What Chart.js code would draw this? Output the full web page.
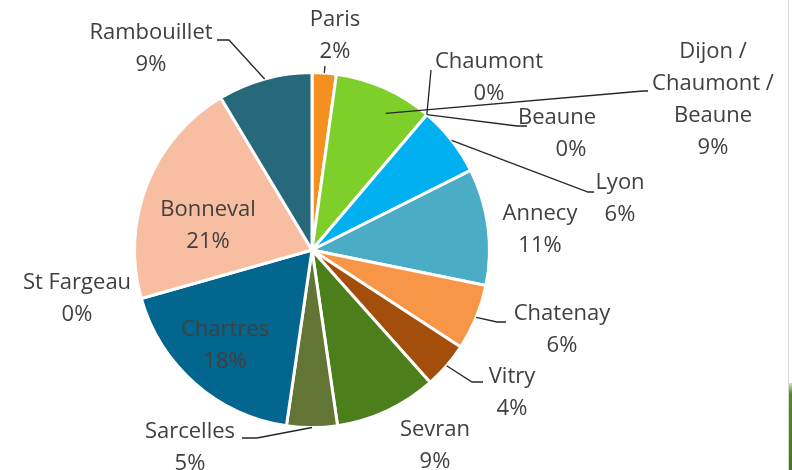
<!DOCTYPE html>
<html>
<head>
<meta charset="utf-8">
<script src="https://cdn.jsdelivr.net/npm/chart.js"></script>
<style>
  html, body { margin: 0; padding: 0; background: #fff; }
  #wrap { position: relative; width: 792px; height: 470px; overflow: hidden; }
  #edge { position: absolute; left: 788px; top: 0; width: 1px; height: 470px; background: #d9d9d9; }
  #edgeGreen { position: absolute; left: 789px; top: 383px; width: 3px; height: 87px; background: linear-gradient(#cfe6b8, #4e8f1c 12%, #3f7d14); }
</style>
</head>
<body>
<div id="wrap">
  <canvas id="pie" width="792" height="470"></canvas>
  <div id="edge"></div>
  <div id="edgeGreen"></div>
</div>
<script>
// Slices, clockwise from the top
const categories = ['Paris', 'Dijon / Chaumont / Beaune', 'Chaumont', 'Beaune', 'Lyon', 'Annecy',
    'Chatenay', 'Vitry', 'Sevran', 'Sarcelles', 'Chartres', 'St Fargeau', 'Bonneval', 'Rambouillet'];
const shares = [2.2, 9.0, 0, 0, 6.4, 10.6, 6.0, 4.2, 9.3, 4.6, 18.3, 0, 20.8, 8.6];
const sliceColors = ['#f39020', '#7ecf2a', '#7ecf2a', '#00b0f0', '#00b0f0', '#4bacc6',
    '#f79646', '#a34f0b', '#4d7e1c', '#637535', '#02668e', '#02668e', '#f7bea1', '#26697b'];
// Text lines of each label (the percentage line is added from the data)
const labelLines = [['Paris'], ['Dijon /', 'Chaumont /', 'Beaune'], ['Chaumont'], ['Beaune'], ['Lyon'],
    ['Annecy'], ['Chatenay'], ['Vitry'], ['Sevran'], ['Sarcelles'], ['Chartres'], ['St Fargeau'],
    ['Bonneval'], ['Rambouillet']];

// Label placement: centre of first line, leader elbows, anchor on the slice (fraction of sweep, radius factor)
const labelLayout = [
    { x: 335, y: 20, leader: [[325, 66]], f: 0.5, r: 1.0 },
    { x: 713, y: 52, leader: [[648, 91], [643, 91]], f: 0.63, r: 0.875 },
    { x: 489, y: 62, leader: [[431, 70]], f: 0, r: 1.0 },
    { x: 557, y: 118, px: 571, leader: [[527, 126], [517, 126]], f: 0, r: 1.0 },
    { x: 620, y: 183, leader: [[594, 192], [588, 192]], f: 0.5, r: 1.0 },
    { x: 540, y: 214 },
    { x: 562, y: 314, leader: [[506, 322], [497, 322]], f: 0.5, r: 1.0 },
    { x: 512, y: 377, leader: [[483, 382], [472, 382]], f: 0.5, r: 1.0 },
    { x: 435, y: 430 },
    { x: 190, y: 432, leader: [[242, 438], [257, 438]], f: 0.5, r: 1.0 },
    { x: 225, y: 330 },
    { x: 77, y: 283 },
    { x: 208, y: 210 },
    { x: 151, y: 33, leader: [[217, 40], [229, 40]], f: 0.5, r: 1.0 }
];

const total = shares.reduce((a, b) => a + b, 0);

const pieLabels = {
    id: 'pieLabels',
    afterDatasetsDraw(chart) {
        const ctx = chart.ctx;
        const arcs = chart.getDatasetMeta(0).data;
        ctx.save();
        // leader lines
        ctx.strokeStyle = '#262626';
        ctx.lineWidth = 1.3;
        labelLayout.forEach((lay, i) => {
            if (!lay.leader) return;
            const arc = arcs[i];
            const a = arc.startAngle + (arc.endAngle - arc.startAngle) * lay.f;
            const rr = arc.outerRadius * lay.r;
            const ex = arc.x + Math.cos(a) * rr;
            const ey = arc.y + Math.sin(a) * rr;
            ctx.beginPath();
            ctx.moveTo(lay.leader[0][0], lay.leader[0][1]);
            for (let k = 1; k < lay.leader.length; k++) ctx.lineTo(lay.leader[k][0], lay.leader[k][1]);
            ctx.lineTo(ex, ey);
            ctx.stroke();
        });
        // texts
        ctx.font = '22px "Open Sans"';
        ctx.fillStyle = '#404040';
        ctx.textAlign = 'center';
        ctx.textBaseline = 'middle';
        labelLayout.forEach((lay, i) => {
            const lines = labelLines[i].concat([Math.round(shares[i] / total * 100) + '%']);
            lines.forEach((t, k) => {
                let x = lay.x;
                if (k === lines.length - 1 && lay.px) x = lay.px;
                ctx.fillText(t, x, lay.y + k * 32);
            });
        });
        ctx.restore();
    }
};

new Chart(document.getElementById('pie'), {
    type: 'pie',
    data: {
        labels: categories,
        datasets: [{
            data: shares,
            backgroundColor: sliceColors,
            borderColor: '#ffffff',
            borderWidth: 3
        }]
    },
    options: {
        responsive: false,
        animation: false,
        layout: { padding: { left: 133, right: 301, top: 71, bottom: 41 } },
        plugins: {
            legend: { display: false },
            tooltip: { enabled: false }
        }
    },
    plugins: [pieLabels]
});
</script>
</body>
</html>
